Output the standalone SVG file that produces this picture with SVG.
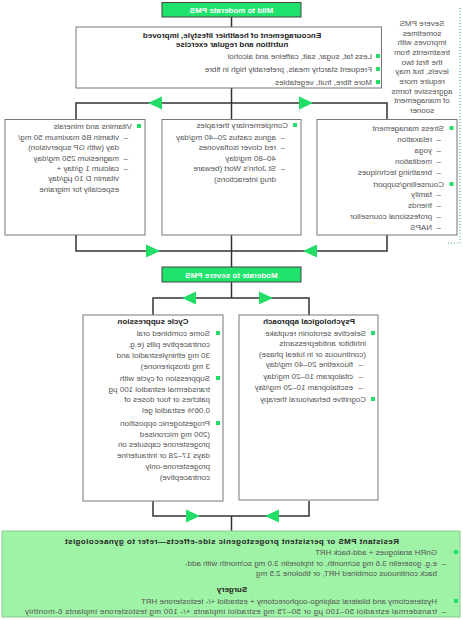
<svg xmlns="http://www.w3.org/2000/svg" width="463" height="620" viewBox="0 0 463 620">
<defs>
<style>
.t{font-family:"Liberation Sans",Arial,sans-serif;font-size:8px;fill:#555}
.b{font-weight:bold;fill:#222}
.c{text-anchor:middle}
.h{font-family:"Liberation Sans",Arial,sans-serif;font-size:8px;font-weight:bold;fill:#fff;text-anchor:middle}
.box{fill:#fff;stroke:#777;stroke-width:1}
.hdr{fill:#1fe36c;stroke:#444;stroke-width:1}
.fin{fill:#9ff3a6;stroke:#8ac98f;stroke-width:1}
.ln{stroke:#333;stroke-width:1.5;fill:none}
.ar{fill:#22dd66}
.sq{fill:#22dd66}
.dot{stroke:#4aa88a;stroke-width:1;stroke-dasharray:1 2;fill:none}
</style>
</defs>
<rect width="463" height="620" fill="#fff"/>
<g transform="matrix(-1 0 0 1 463 0)">
<g id="connectors">
<path class="ln" d="M231.5 17V27M231.5 88V119M76 119V103H387V119M76 235V251H387V235M231.5 235V267M231.5 282V298M154 315V298H310V315M154 501V516H310V501M231.5 516V531"/>
<polygon class="ar" points="301,96.5 315,103 301,109.5"/>
<polygon class="ar" points="164,96.5 150,103 164,109.5"/>
<polygon class="ar" points="317,244.5 303,251 317,257.5"/>
<polygon class="ar" points="146,244.5 160,251 146,257.5"/>
<polygon class="ar" points="267,291.5 281,298 267,304.5"/>
<polygon class="ar" points="204,291.5 190,298 204,304.5"/>
<polygon class="ar" points="277,509.5 263,516 277,522.5"/>
<polygon class="ar" points="184,509.5 198,516 184,522.5"/>
<path class="dot" d="M3 8V243H17"/>
</g>
<g id="note">
<text class="t c" x="41"><tspan x="41" y="26">Severe PMS</tspan><tspan x="41" y="35.7">sometimes</tspan><tspan x="41" y="45.3">improves with</tspan><tspan x="41" y="55">treatments from</tspan><tspan x="41" y="64.7">the first two</tspan><tspan x="41" y="74.3">levels, but may</tspan><tspan x="41" y="84">require more</tspan><tspan x="41" y="93.7">aggressive forms</tspan><tspan x="41" y="103.3">of management</tspan><tspan x="41" y="113">sooner</tspan></text>
</g>
<g id="mild">
<rect class="hdr" x="162" y="2.5" width="139" height="14.5"/>
<text class="h" x="231.5" y="13">Mild to moderate PMS</text>
</g>
<g id="lifestyle">
<rect class="box" x="81.5" y="27" width="305.5" height="61"/>
<text class="t b c" x="231" y="38">Encouragement of healthier lifestyle, improved</text>
<text class="t b c" x="231" y="47">nutrition and regular exercise</text>
<rect class="sq" x="83" y="54" width="4" height="4"/>
<rect class="sq" x="83" y="67" width="4" height="4"/>
<rect class="sq" x="83" y="80" width="4" height="4"/>
<text class="t" x="91" y="59">Less fat, sugar, salt, caffeine and alcohol</text>
<text class="t" x="91" y="72">Frequent starchy meals, preferably high in fibre</text>
<text class="t" x="91" y="85">More fibre, fruit, vegetables</text>
</g>
<g id="stress">
<rect class="box" x="6" y="119.5" width="140" height="115.5"/>
<rect class="sq" x="9.5" y="126" width="4" height="4"/>
<rect class="sq" x="9.5" y="182" width="4" height="4"/>
<text class="t" x="19" y="131">Stress management</text>
<text class="t" x="22" y="142">–</text><text class="t" x="31" y="142">relaxation</text>
<text class="t" x="22" y="153">–</text><text class="t" x="31" y="153">yoga</text>
<text class="t" x="22" y="164">–</text><text class="t" x="31" y="164">meditation</text>
<text class="t" x="22" y="175">–</text><text class="t" x="31" y="175">breathing techniques</text>
<text class="t" x="19" y="187">Counselling/support</text>
<text class="t" x="22" y="197">–</text><text class="t" x="31" y="197">family</text>
<text class="t" x="22" y="208">–</text><text class="t" x="31" y="208">friends</text>
<text class="t" x="22" y="219">–</text><text class="t" x="31" y="219">professional counsellor</text>
<text class="t" x="22" y="230">–</text><text class="t" x="31" y="230">NAPS</text>
</g>
<g id="complementary">
<rect class="box" x="162" y="119.5" width="139" height="115.5"/>
<rect class="sq" x="166" y="123" width="4" height="4"/>
<text class="t" x="175" y="128">Complementary therapies</text>
<text class="t" x="178" y="140">–</text><text class="t" x="187" y="140">agnus castus 20–40 mg/day</text>
<text class="t" x="178" y="150">–</text><text class="t" x="187" y="150">red clover isoflavones</text>
<text class="t" x="187" y="161">40–80 mg/day</text>
<text class="t" x="178" y="171">–</text><text class="t" x="187" y="171">St John's Wort (beware</text>
<text class="t" x="187" y="182">drug interactions)</text>
</g>
<g id="vitamins">
<rect class="box" x="318" y="119.5" width="140" height="115.5"/>
<rect class="sq" x="322" y="124" width="4" height="4"/>
<text class="t" x="331" y="129">Vitamins and minerals</text>
<text class="t" x="335" y="140">–</text><text class="t" x="344" y="140">vitamin B6 maximum 50 mg/</text>
<text class="t" x="344" y="150">day (with GP supervision)</text>
<text class="t" x="335" y="161">–</text><text class="t" x="344" y="161">magnesium 250 mg/day</text>
<text class="t" x="335" y="171">–</text><text class="t" x="344" y="171">calcium 1 g/day +</text>
<text class="t" x="344" y="181">vitamin D 10 µg/day</text>
<text class="t" x="344" y="192">especially for migraine</text>
</g>
<g id="moderate">
<rect class="hdr" x="162" y="267" width="139" height="15"/>
<text class="h" x="231.5" y="278">Moderate to severe PMS</text>
</g>
<g id="psychological">
<rect class="box" x="85" y="315" width="139" height="185"/>
<text class="t b c" x="154" y="324">Psychological approach</text>
<rect class="sq" x="88" y="331" width="4" height="4"/>
<rect class="sq" x="88" y="397" width="4" height="4"/>
<text class="t" x="97" y="336">Selective serotonin reuptake</text>
<text class="t" x="97" y="346">inhibitor antidepressants</text>
<text class="t" x="97" y="357">(continuous or in luteal phase)</text>
<text class="t" x="100" y="367">–</text><text class="t" x="110" y="367">fluoxetine 20–40 mg/day</text>
<text class="t" x="100" y="379">–</text><text class="t" x="110" y="379">citalopram 10–20 mg/day</text>
<text class="t" x="100" y="390">–</text><text class="t" x="110" y="390">escitalopram 10–20 mg/day</text>
<text class="t" x="97" y="402">Cognitive behavioural therapy</text>
</g>
<g id="cycle">
<rect class="box" x="240" y="315" width="140" height="186"/>
<text class="t b c" x="310" y="324">Cycle suppression</text>
<rect class="sq" x="243" y="331" width="4" height="4"/>
<rect class="sq" x="243" y="376" width="4" height="4"/>
<rect class="sq" x="243" y="421" width="4" height="4"/>
<text class="t" x="253" y="336">Some combined oral</text>
<text class="t" x="253" y="347">contraceptive pills (e.g.</text>
<text class="t" x="253" y="358">30 mg ethinylestradiol and</text>
<text class="t" x="253" y="369">3 mg drospirenone)</text>
<text class="t" x="253" y="381">Suppression of cycle with</text>
<text class="t" x="253" y="392">transdermal estradiol 100 µg</text>
<text class="t" x="253" y="402">patches or four doses of</text>
<text class="t" x="253" y="413">0.06% estradiol gel</text>
<text class="t" x="253" y="426">Progestogenic opposition</text>
<text class="t" x="253" y="437">(200 mg micronised</text>
<text class="t" x="253" y="447">progesterone capsules on</text>
<text class="t" x="253" y="458">days 17–28 or intrauterine</text>
<text class="t" x="253" y="469">progesterone-only</text>
<text class="t" x="253" y="480">contraceptive)</text>
</g>
<g id="resistant">
<rect class="fin" x="3" y="531" width="458" height="86"/>
<text class="t b c" x="231" y="544" textLength="334" lengthAdjust="spacing">Resistant PMS or persistent progestogenic side-effects—refer to gynaecologist</text>
<rect class="sq" x="5" y="550" width="4" height="4"/>
<rect class="sq" x="5" y="599" width="4" height="4"/>
<text class="t" x="26" y="555">GnRH analogues + add-back HRT</text>
<text class="t" x="17" y="566">–</text><text class="t" x="26" y="566">e.g. goserelin 3.6 mg sc/month, or triptorelin 3.0 mg sc/month with add-</text>
<text class="t" x="26" y="576">back continuous combined HRT, or tibolone 2.5 mg</text>
<text class="t b c" x="231" y="592">Surgery</text>
<text class="t" x="26" y="604">Hysterectomy and bilateral salpingo-oophorectomy + estradiol +/- testosterone HRT</text>
<text class="t" x="17" y="614">–</text><text class="t" x="26" y="614" textLength="412" lengthAdjust="spacing">transdermal estradiol 50–100 µg or 50–75 mg estradiol implants +/- 100 mg testosterone implants 6-monthly</text>
</g>
</g>
</svg>
